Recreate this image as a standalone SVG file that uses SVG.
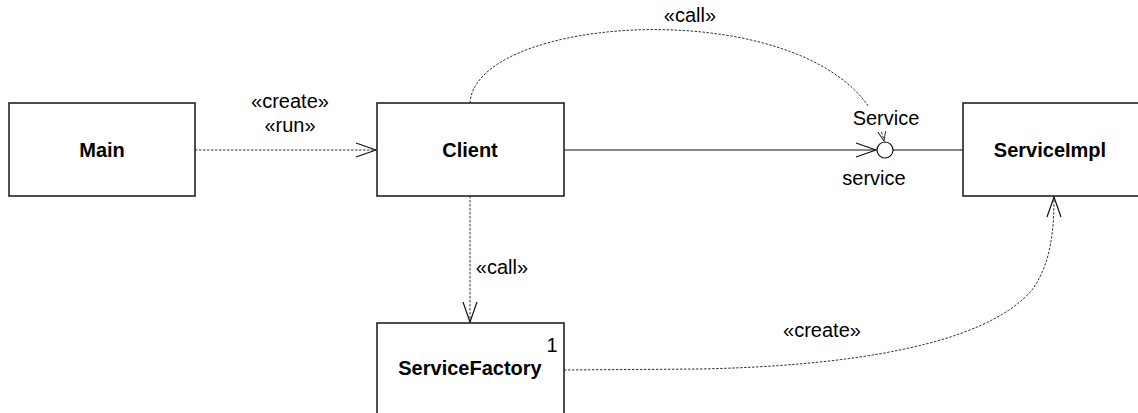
<svg xmlns="http://www.w3.org/2000/svg" width="1138" height="413" viewBox="0 0 1138 413">
  <style>
    .box { fill: #fff; stroke: #222; stroke-width: 1.6; }
    .name { font-family: "Liberation Sans", Arial, sans-serif; font-size: 20px; font-weight: bold; text-anchor: middle; fill: #000; }
    .lbl { font-family: "Liberation Sans", Arial, sans-serif; font-size: 20px; text-anchor: middle; fill: #000; }
    .dep { fill: none; stroke: #333; stroke-width: 1; stroke-dasharray: 2.5 1.5; }
    .solid { fill: none; stroke: #111; stroke-width: 1.2; }
  </style>
  <defs>
    <marker id="open" viewBox="0 0 22 16" refX="21" refY="8" markerWidth="22" markerHeight="16" markerUnits="userSpaceOnUse" orient="auto">
      <path d="M1,1 L21,8 L1,15" fill="none" stroke="#111" stroke-width="1.2"/>
    </marker>
    <marker id="openSmall" viewBox="0 0 12 10" refX="11" refY="5" markerWidth="12" markerHeight="10" markerUnits="userSpaceOnUse" orient="auto">
      <path d="M1,1 L11,5 L1,9" fill="none" stroke="#333" stroke-width="1"/>
    </marker>
  </defs>

  <g id="connectors">
    <!-- Main to Client: create / run -->
    <path class="dep" d="M195,150 L376,150" marker-end="url(#open)"/>
    <!-- Client required port to Service interface -->
    <path class="solid" d="M564,150 L876,150" marker-end="url(#open)"/>
    <!-- ServiceImpl provides Service -->
    <path class="solid" d="M893,150 L963,150"/>
    <!-- Client calls through the Service interface -->
    <path class="dep" d="M470,103 C476,8 850,-10 884,141" marker-end="url(#openSmall)"/>
    <!-- Client calls ServiceFactory -->
    <path class="dep" d="M470,196 L470,322" marker-end="url(#open)"/>
    <!-- ServiceFactory creates ServiceImpl -->
    <path class="dep" d="M564,370 L700,369 C850,366 985,345 1032,290 C1051,264 1054,230 1054,197" marker-end="url(#open)"/>
  </g>

  <g id="service-interface">
    <circle cx="885" cy="150" r="8" fill="#fff" stroke="#111" stroke-width="1.2"/>
    <rect x="851" y="107" width="68" height="24" fill="#fff"/>
    <text class="lbl" x="886" y="125">Service</text>
  </g>

  <g id="main">
    <rect class="box" x="9" y="103" width="186" height="93"/>
    <text class="name" x="102" y="157">Main</text>
  </g>

  <g id="client">
    <rect class="box" x="377" y="103" width="187" height="93"/>
    <text class="name" x="470" y="157">Client</text>
  </g>

  <g id="service-impl">
    <rect class="box" x="963" y="103" width="187" height="93"/>
    <text class="name" x="1050" y="157">ServiceImpl</text>
  </g>

  <g id="service-factory">
    <rect class="box" x="377" y="323" width="187" height="100"/>
    <text class="lbl" x="552" y="352">1</text>
    <text class="name" x="470" y="375">ServiceFactory</text>
  </g>

  <g id="labels">
    <text class="lbl" x="290" y="108">«create»</text>
    <text class="lbl" x="290" y="132">«run»</text>
    <text class="lbl" x="690" y="22">«call»</text>
    <text class="lbl" x="874" y="185">service</text>
    <text class="lbl" x="502" y="274">«call»</text>
    <text class="lbl" x="822" y="337">«create»</text>
  </g>
</svg>
